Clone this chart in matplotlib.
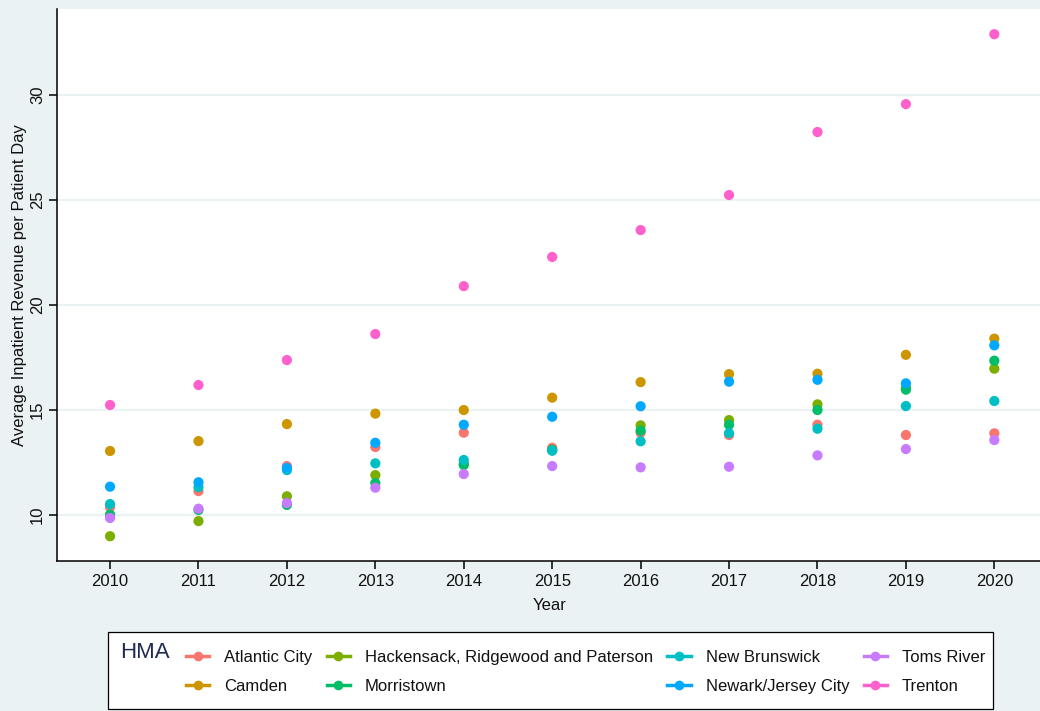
import matplotlib
matplotlib.use("Agg")
import matplotlib.pyplot as plt
from matplotlib.lines import Line2D
from matplotlib.patches import Rectangle

plt.rcParams['font.family'] = ['Liberation Sans', 'DejaVu Sans']

years = [2010, 2011, 2012, 2013, 2014, 2015, 2016, 2017, 2018, 2019, 2020]

hma_names = [
    "Atlantic City",
    "Camden",
    "Hackensack, Ridgewood and Paterson",
    "Morristown",
    "New Brunswick",
    "Newark/Jersey City",
    "Toms River",
    "Trenton",
]

atlantic_city = [10.38, 11.14, 12.33, 13.24, 13.92, 13.20, 13.92, 13.81, 14.30, 13.81, 13.89]
camden = [13.05, 13.52, 14.33, 14.83, 15.00, 15.59, 16.33, 16.71, 16.73, 17.63, 18.40]
hackensack = [8.99, 9.71, 10.89, 11.90, 12.45, 13.10, 14.27, 14.52, 15.27, 16.08, 16.97]
morristown = [10.02, 10.24, 10.48, 11.52, 12.38, 13.10, 14.02, 14.30, 15.00, 15.97, 17.35]
new_brunswick = [10.52, 11.33, 12.14, 12.46, 12.62, 13.06, 13.51, 13.90, 14.11, 15.19, 15.43]
newark = [11.35, 11.56, 12.24, 13.44, 14.30, 14.68, 15.18, 16.35, 16.44, 16.27, 18.08]
toms_river = [9.86, 10.30, 10.57, 11.30, 11.95, 12.33, 12.27, 12.30, 12.84, 13.14, 13.57]
trenton = [15.24, 16.19, 17.38, 18.62, 20.90, 22.29, 23.57, 25.24, 28.24, 29.57, 32.90]

series = [atlantic_city, camden, hackensack, morristown,
          new_brunswick, newark, toms_river, trenton]

colors = ["#F8766D", "#CD9600", "#7CAE00", "#00BE67",
          "#00BFC4", "#00A9FF", "#C77CFF", "#FF61CC"]

y_ticks = [10, 15, 20, 25, 30]

BG = "#EAF2F3"
W, H = 1040, 711

fig = plt.figure(figsize=(W / 100, H / 100), dpi=100, facecolor=BG)
ax = fig.add_axes([57 / W, 1 - 561 / H, (W - 57) / W + 0.002, (561 - 9) / H])
ax.set_facecolor("white")

for vals, col in zip(series, colors):
    ax.scatter(years, vals, s=54, color=col, edgecolors="none", zorder=3)

ax.set_xlim(2009.40, 2020.54)
ax.set_ylim(7.81, 34.1)
ax.set_xticks(years)
ax.set_xticklabels([str(y) for y in years])
ax.set_yticks(y_ticks)
ax.set_yticklabels([str(t) for t in y_ticks], rotation=90, va="center")

ax.grid(axis="y", color=BG, linewidth=1.6, zorder=0)
ax.grid(axis="x", visible=False)
ax.set_axisbelow(True)

for side in ("top", "right"):
    ax.spines[side].set_visible(False)
for side in ("left", "bottom"):
    ax.spines[side].set_color("black")
    ax.spines[side].set_linewidth(1.1)

ax.tick_params(axis="both", direction="out", length=5.5, width=1.1,
               color="black", labelsize=12, labelcolor="#111111")
ax.tick_params(axis="x", pad=4)
ax.tick_params(axis="y", pad=3)

ax.set_xlabel("Year", fontsize=12, color="#111111", labelpad=6)
ax.set_ylabel("Average Inpatient Revenue per Patient Day", fontsize=12,
              color="#111111", labelpad=2)

# legend box beneath the plot
box = Rectangle((108 / W, 1 - 709 / H), (993 - 108) / W, (709 - 632) / H,
                transform=fig.transFigure, facecolor="white",
                edgecolor="black", linewidth=0.9)
fig.patches.append(box)
fig.text(120 / W, 1 - 652 / H, "HMA", fontsize=16, color="#1e2b4d",
         ha="left", va="center")

handles = [Line2D([], [], color=c, marker="o", linestyle="-", linewidth=2.5,
                  markersize=7, markeredgewidth=0) for c in colors]
fig.legend(handles, hma_names, ncol=4, loc="upper left",
           bbox_to_anchor=(186 / W, 1 - 650 / H), frameon=False,
           fontsize=12, handlelength=1.4, handletextpad=0.9,
           columnspacing=0.85, labelspacing=0.85, borderpad=0,
           borderaxespad=0, labelcolor="#111111")

fig.savefig("out.png", dpi=100, facecolor=BG)
